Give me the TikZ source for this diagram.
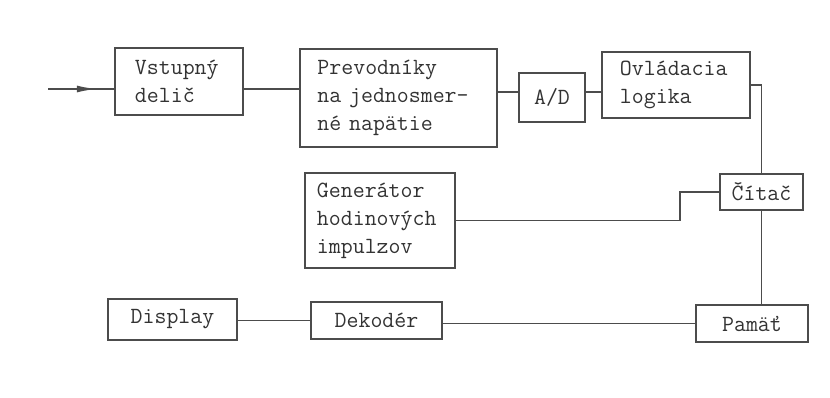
\documentclass[tikz,border=0pt]{standalone}
\usepackage{fontspec}
\usetikzlibrary{arrows.meta}
\tikzset{
  blok/.style={draw=black!70, line width=1.2pt, inner sep=0pt, text=black!80,
    font=\ttfamily\fontsize{16.5}{20}\selectfont},
  spoj/.style={draw=black!70, line width=1.2pt}
}
\begin{document}
\begin{tikzpicture}[x=0.025cm,y=-0.025cm]
\useasboundingbox (0,0) rectangle (830,398);
\node[blok, minimum width=3.2cm, minimum height=1.675cm, text width=2.2cm, align=left] (vstup) at (179,81.5) {Vstupný\\delič};
\node[blok, minimum width=4.925cm, minimum height=2.45cm, text width=4.05cm, align=left] (prevod) at (398.5,98) {Prevodníky\\na jednosmer-\\né napätie};
\node[blok, minimum width=1.65cm, minimum height=1.225cm] (ad) at (552,97.5) {A/D};
\node[blok, minimum width=3.7cm, minimum height=1.65cm, text width=2.8cm, align=left] (ovl) at (676,85) {Ovládacia\\logika};
\node[blok, minimum width=2.075cm, minimum height=0.9cm] (citac) at (761.5,192) {Čítač};
\node[blok, minimum width=3.75cm, minimum height=2.375cm, text width=3.15cm, align=left] (gen) at (380,220.5) {Generátor\\hodinových\\impulzov};
\node[blok, minimum width=3.225cm, minimum height=1.025cm] (display) at (172.5,319.5) {Display};
\node[blok, minimum width=3.275cm, minimum height=0.925cm] (dekoder) at (376.5,320.5) {Dekodér};
\node[blok, minimum width=2.8cm, minimum height=0.925cm] (pamat) at (752,323.5) {Pamäť};
\coordinate (inp) at (48,89);
\coordinate (tip) at (97,89);
\coordinate (adl) at (0,92);
\coordinate (knick) at (680,205);
\draw[spoj, -{Latex[length=0.5cm,width=0.17cm]}] (inp) -- (tip);
\draw[spoj] (inp) -- (inp -| vstup.west);
\draw[spoj] (inp -| vstup.east) -- (inp -| prevod.west);
\draw[spoj] (adl -| prevod.east) -- (adl -| ad.west);
\draw[spoj] (adl -| ad.east) -- (adl -| ovl.west);
\draw[spoj] (ovl.east) -| (citac.north);
\draw[spoj] (gen.east) -| (knick) |- (citac.west);
\draw[spoj] (citac.south) -- (citac.south |- pamat.north);
\draw[spoj] (pamat.west) -- (pamat.west -| dekoder.east);
\draw[spoj] (dekoder.west) -- (dekoder.west -| display.east);
\end{tikzpicture}
\end{document}
